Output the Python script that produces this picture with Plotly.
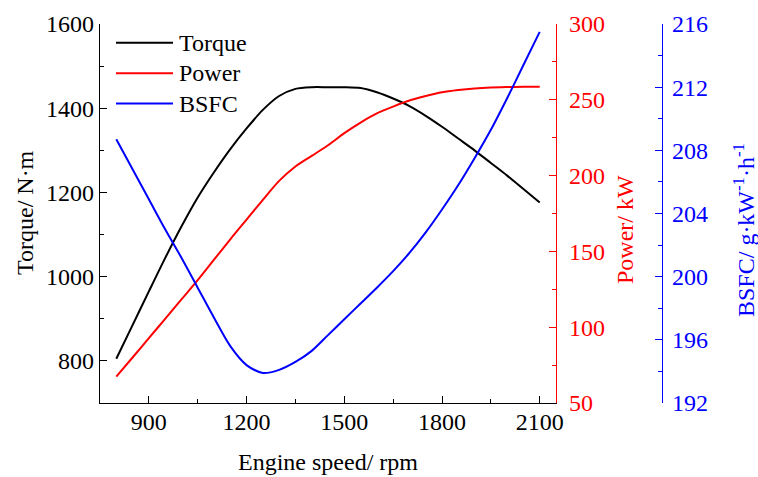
import plotly.graph_objects as go

speed = [800, 850, 900, 950, 1000, 1050, 1100, 1150, 1200, 1250, 1300, 1350, 1400, 1450,
         1500, 1550, 1600, 1650, 1700, 1750, 1800, 1850, 1900, 1950, 2000, 2050, 2100]
torque = [805, 885, 965, 1044, 1119, 1188, 1248, 1303, 1352, 1396, 1429, 1446, 1450, 1450,
          1450, 1448, 1438, 1423, 1405, 1382, 1356, 1328, 1300, 1270, 1240, 1208, 1176]
power = [67.4, 80, 92.8, 105.5, 118.3, 131, 144.5, 158, 171, 184, 196.5, 206, 213, 220,
         228, 235, 241, 245.5, 249.5, 252.5, 255, 256.5, 257.5, 258.1, 258.4, 258.6, 258.6]
bsfc = [208.7, 206.8, 204.9, 203.0, 201.2, 199.3, 197.4, 195.6, 194.4, 193.9, 194.1, 194.6,
        195.3, 196.3, 197.3, 198.3, 199.3, 200.35, 201.5, 202.8, 204.25, 205.8, 207.5, 209.3,
        211.3, 213.4, 215.5]

names = ["Torque", "Power", "BSFC"]
colors = ["#000000", "#FF0000", "#0000FF"]

FONT = "Liberation Serif"
FS = 24
W, H = 758, 477
ML, MR, MT, MB = 100, 96, 24, 74
plot_w = W - ML - MR
xdom = (556 - ML) / plot_w

fig = go.Figure()
fig.add_trace(go.Scatter(x=speed, y=torque, name=names[0], mode="lines",
                         line=dict(color=colors[0], width=2, shape="spline", smoothing=0.8),
                         xaxis="x", yaxis="y", showlegend=False))
fig.add_trace(go.Scatter(x=speed, y=power, name=names[1], mode="lines",
                         line=dict(color=colors[1], width=2, shape="spline", smoothing=0.8),
                         xaxis="x", yaxis="y2", showlegend=False))
fig.add_trace(go.Scatter(x=speed, y=bsfc, name=names[2], mode="lines",
                         line=dict(color=colors[2], width=2, shape="spline", smoothing=0.8),
                         xaxis="x", yaxis="y3", showlegend=False))

axis_common = dict(showgrid=False, zeroline=False, showline=True, ticks="inside",
                   ticklen=7, tickwidth=1.3, linewidth=1.3)

fig.update_layout(
    width=W, height=H,
    margin=dict(l=ML, r=MR, t=MT, b=MB, pad=0),
    paper_bgcolor="white", plot_bgcolor="white",
    font=dict(family=FONT, size=FS, color="black"),
    xaxis=dict(domain=[0, xdom], range=[750, 2150], tick0=900, dtick=300,
               linecolor="black", tickcolor="black",
               tickfont=dict(family=FONT, size=FS, color="black"),
               minor=dict(ticks="inside", ticklen=4, dtick=150, tick0=750, tickcolor="black", tickwidth=1.3),
               ticklabelstandoff=-3, **axis_common),
    yaxis=dict(range=[700, 1600], tick0=800, dtick=200,
               linecolor="black", tickcolor="black",
               tickfont=dict(family=FONT, size=FS, color="black"),
               minor=dict(ticks="inside", ticklen=4, dtick=100, tick0=700, tickcolor="black", tickwidth=1.3),
               ticklabelstandoff=0, **axis_common),
    yaxis2=dict(range=[50, 300], tick0=50, dtick=50, overlaying="y", side="right", anchor="x",
                linecolor="#FF0000", tickcolor="#FF0000",
                tickfont=dict(family=FONT, size=FS, color="#FF0000"),
                minor=dict(ticks="inside", ticklen=4, dtick=25, tick0=50, tickcolor="#FF0000", tickwidth=1.3),
                ticklabelstandoff=7, **axis_common),
    yaxis3=dict(range=[192, 216], tick0=192, dtick=4, overlaying="y", side="right", anchor="free",
                position=1.0,
                linecolor="#0000FF", tickcolor="#0000FF",
                tickfont=dict(family=FONT, size=FS, color="#0000FF"),
                minor=dict(ticks="inside", ticklen=4, dtick=2, tick0=192, tickcolor="#0000FF", tickwidth=1.3),
                ticklabelstandoff=4, **axis_common),
)

def px_x(px):
    return (px - ML) / plot_w

def px_y(py):
    return (H - MB - py) / (H - MT - MB)

fig.add_annotation(text="Engine speed/ rpm", x=px_x(328), y=px_y(462), xref="paper", yref="paper",
                   showarrow=False, xanchor="center", yanchor="middle",
                   font=dict(family=FONT, size=FS, color="black"))
fig.add_annotation(text="Torque/ N·m", x=px_x(25), y=px_y(213), xref="paper", yref="paper",
                   showarrow=False, xanchor="center", yanchor="middle", textangle=-90,
                   font=dict(family=FONT, size=FS, color="black"))
fig.add_annotation(text="Power/ kW", x=px_x(625), y=px_y(230), xref="paper", yref="paper",
                   showarrow=False, xanchor="center", yanchor="middle", textangle=-90,
                   font=dict(family=FONT, size=FS, color="#FF0000"))
fig.add_annotation(text="BSFC/ g·kW<sup>-1</sup>·h<sup>-1</sup>", x=px_x(744), y=px_y(230),
                   xref="paper", yref="paper",
                   showarrow=False, xanchor="center", yanchor="middle", textangle=-90,
                   font=dict(family=FONT, size=FS, color="#0000FF"))

legend_rows = [42.7, 73.3, 103.5]
for name, col, ry in zip(names, colors, legend_rows):
    fig.add_shape(type="line", xref="paper", yref="paper",
                  x0=px_x(116), x1=px_x(173), y0=px_y(ry), y1=px_y(ry),
                  line=dict(color=col, width=2))
    fig.add_annotation(text=name, x=px_x(177), y=px_y(ry), xref="paper", yref="paper",
                       showarrow=False, xanchor="left", yanchor="middle",
                       font=dict(family=FONT, size=FS, color="black"))

fig.write_html("out.html")
